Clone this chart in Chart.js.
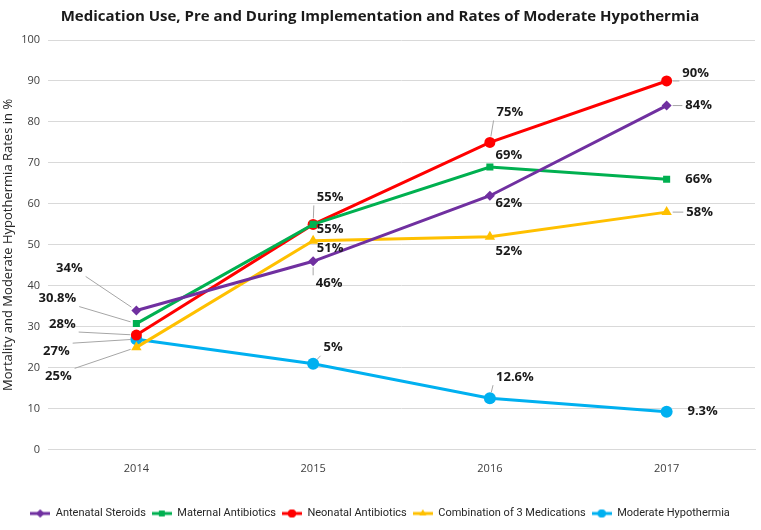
<!DOCTYPE html>
<html>
<head>
<meta charset="utf-8">
<script src="https://cdn.jsdelivr.net/npm/chart.js@4.4.1/dist/chart.umd.min.js"></script>
<style>
  html, body { margin: 0; padding: 0; background: #fff; }
  #wrap { width: 761px; height: 530px; position: relative; }
</style>
</head>
<body>
<div id="wrap"><canvas id="chart"></canvas></div>
<script>
// 数据
const years = ['2014', '2015', '2016', '2017'];
const seriesNames = ['Antenatal Steroids', 'Maternal Antibiotics', 'Neonatal Antibiotics', 'Combination of 3 Medications', 'Moderate Hypothermia'];
const antenatalSteroids = [34, 46, 62, 84];
const maternalAntibiotics = [30.8, 55, 69, 66];
const neonatalAntibiotics = [28, 55, 75, 90];
const combination3 = [25, 51, 52, 58];
const moderateHypothermia = [27, 21, 12.6, 9.3];
// 数据标签文字（原图 2015 低体温点标注为 5%）
const steroidLabels = ['34%', '46%', '62%', '84%'];
const maternalLabels = ['30.8%', '55%', '69%', '66%'];
const neonatalLabels = ['28%', '55%', '75%', '90%'];
const combinationLabels = ['25%', '51%', '52%', '58%'];
const hypothermiaLabels = ['27%', '5%', '12.6%', '9.3%'];
const yTicks = [0, 10, 20, 30, 40, 50, 60, 70, 80, 90, 100];

// 样式
const colors = ['#7030A0', '#00B050', '#FF0000', '#FFC000', '#00B0F0'];
const markers = ['rectRot', 'rect', 'circle', 'triangle', 'circle'];
const markerSizes = [5, 5, 5.5, 6, 6];
const FONT = '"Open Sans", "Liberation Sans", sans-serif';
const NARROW = 'Roboto, sans-serif';

// 标签偏移 [dx, dy, 是否画引线]
const labelOffsets = [
    [[-67, -42, true], [16, 22, true], [19, 8, false], [32, 0, true]],
    [[-79, -25, true], [17, 5, false], [19, -12, false], [32, 0, false]],
    [[-74, -11, true], [17, -27, true], [20, -30, true], [29, -8, true]],
    [[-78, 29, true], [17, 7, false], [19, 15, false], [33, 0, true]],
    [[-80, 12, true], [20, -16, true], [25, -21, true], [36, 0, false]]
];

const seriesData = [antenatalSteroids, maternalAntibiotics, neonatalAntibiotics, combination3, moderateHypothermia];
const seriesLabels = [steroidLabels, maternalLabels, neonatalLabels, combinationLabels, hypothermiaLabels];

// 图例小图标：线 + 标记
function legendIcon(i) {
    const c = document.createElement('canvas');
    c.width = 20; c.height = 12;
    const g = c.getContext('2d');
    g.strokeStyle = colors[i];
    g.lineWidth = 3;
    g.beginPath(); g.moveTo(0, 6); g.lineTo(20, 6); g.stroke();
    g.fillStyle = colors[i];
    Chart.helpers.drawPoint(g, { pointStyle: markers[i], radius: 4, borderWidth: 0 }, 10, 6);
    g.fill();
    return c;
}

const datasets = seriesData.map(function(d, i) {
    return {
        label: seriesNames[i],
        data: d,
        borderColor: colors[i],
        backgroundColor: colors[i],
        borderWidth: 3,
        pointStyle: markers[i],
        pointRadius: markerSizes[i],
        pointHoverRadius: markerSizes[i],
        pointBorderWidth: 0,
        tension: 0
    };
});

// 数据标签插件
const pointLabelPlugin = {
    id: 'pointLabels',
    afterDatasetsDraw: function(chart) {
        const ctx = chart.ctx;
        ctx.save();
        ctx.font = 'bold 13px ' + FONT;
        ctx.textAlign = 'center';
        ctx.textBaseline = 'middle';
        chart.data.datasets.forEach(function(ds, i) {
            const meta = chart.getDatasetMeta(i);
            meta.data.forEach(function(pt, j) {
                const off = labelOffsets[i][j];
                const text = seriesLabels[i][j];
                const lx = pt.x + off[0];
                const ly = pt.y + off[1];
                if (off[2]) {
                    const w = ctx.measureText(text).width / 2 + 3;
                    const h = 8;
                    const sx = Math.max(lx - w, Math.min(pt.x, lx + w));
                    const sy = Math.max(ly - h, Math.min(pt.y, ly + h));
                    const dx = pt.x - sx, dy = pt.y - sy;
                    const len = Math.sqrt(dx * dx + dy * dy);
                    if (len > 8) {
                        const ex = pt.x - dx / len * 6;
                        const ey = pt.y - dy / len * 6;
                        ctx.strokeStyle = '#a6a6a6';
                        ctx.lineWidth = 1;
                        ctx.beginPath();
                        ctx.moveTo(sx, sy);
                        ctx.lineTo(ex, ey);
                        ctx.stroke();
                    }
                }
                ctx.fillStyle = '#1a1a1a';
                ctx.fillText(text, lx, ly);
            });
        });
        ctx.restore();
    }
};

const chartCtx = document.getElementById('chart').getContext('2d');
const chartConfig = {
    type: 'line',
    data: { labels: years, datasets: datasets },
    options: {
        responsive: true,
        maintainAspectRatio: false,
        animation: false,
        layout: { padding: { left: 0, right: 1, top: 0, bottom: 1 } },
        plugins: {
            title: {
                display: true,
                text: 'Medication Use, Pre and During Implementation and Rates of Moderate Hypothermia',
                color: '#1a1a1a',
                font: { family: FONT, size: 15, weight: 'bold' },
                padding: { top: 8, bottom: 14 }
            },
            legend: {
                position: 'bottom',
                labels: {
                    usePointStyle: true,
                    pointStyleWidth: 20,
                    color: '#262626',
                    font: { family: NARROW, size: 11 },
                    padding: 6,
                    generateLabels: function(chart) {
                        return chart.data.datasets.map(function(ds, i) {
                            return {
                                text: ds.label,
                                pointStyle: legendIcon(i),
                                fillStyle: colors[i],
                                strokeStyle: colors[i],
                                lineWidth: 0,
                                fontColor: '#262626',
                                datasetIndex: i,
                                hidden: false
                            };
                        });
                    }
                }
            },
            tooltip: { enabled: false }
        },
        scales: {
            x: {
                offset: true,
                grid: { display: false, drawTicks: false },
                border: { color: '#d9d9d9', width: 1 },
                ticks: { color: '#404040', font: { family: FONT, size: 11 }, padding: 12 },
                afterFit: function(axis) { axis.height += 15; }
            },
            y: {
                min: 0,
                max: 100,
                afterBuildTicks: function(axis) {
                    axis.ticks = yTicks.map(function(v) { return { value: v }; });
                },
                afterFit: function(axis) { axis.width = 48; },
                grid: { color: '#d9d9d9', drawTicks: false },
                border: { display: false },
                ticks: { color: '#404040', font: { family: FONT, size: 11 }, padding: 8 },
                title: {
                    display: true,
                    text: 'Mortality and Moderate Hypothermia Rates in %',
                    color: '#262626',
                    font: { family: FONT, size: 13 },
                    padding: 0
                }
            }
        }
    },
    plugins: [pointLabelPlugin]
};

try {
    new Chart(chartCtx, chartConfig);
} catch (error) {
    console.error('图表初始化失败:', error);
}
</script>
</body>
</html>
